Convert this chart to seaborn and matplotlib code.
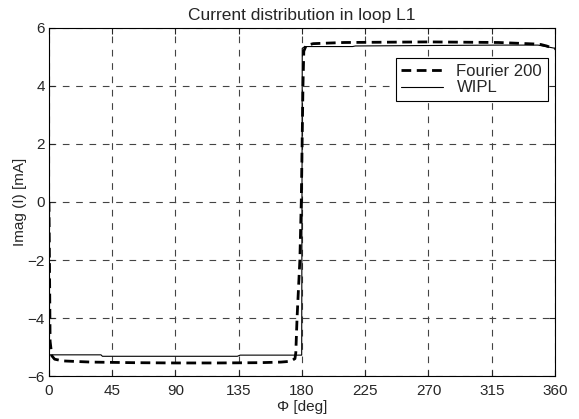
import matplotlib
matplotlib.use("Agg")
import matplotlib.pyplot as plt
import pandas as pd
import seaborn as sns

# Fourier 200 (dashed)
phi_fourier = [0, 0.8, 2, 4, 10, 30, 60, 90, 120, 150, 165, 170, 173, 175, 175.6,
               176.5, 178.5, 179.5, 180.7, 181.3, 183, 188, 210, 270, 320, 345,
               350, 354, 357, 360]
imag_fourier = [0, -4.8, -5.3, -5.42, -5.48, -5.52, -5.54, -5.55, -5.55, -5.54,
                -5.52, -5.5, -5.46, -5.4, -5.2, -4.0, -2.0, 0.0, 4.0, 5.2, 5.4,
                5.46, 5.5, 5.52, 5.5, 5.45, 5.43, 5.38, 5.33, 5.28]

# WIPL (solid)
phi_wipl = [0, 37, 38, 134, 136, 179.8, 180.2, 182, 216, 218, 320, 348, 360]
imag_wipl = [-5.27, -5.27, -5.32, -5.32, -5.28, -5.28, 5.3, 5.36, 5.36, 5.38,
             5.41, 5.41, 5.3]

x_ticks = [0, 45, 90, 135, 180, 225, 270, 315, 360]
y_ticks = [-6, -4, -2, 0, 2, 4, 6]

df_fourier = pd.DataFrame({"phi": phi_fourier, "imag": imag_fourier})
df_wipl = pd.DataFrame({"phi": phi_wipl, "imag": imag_wipl})

sns.set_style("ticks")
plt.rcParams["font.family"] = ["Liberation Sans", "DejaVu Sans"]

fig = plt.figure(figsize=(5.79, 4.19), dpi=100)
ax = fig.add_axes([0.0846, 0.1026, 0.8739, 0.8306])

sns.lineplot(data=df_fourier, x="phi", y="imag", ax=ax, sort=False,
             estimator=None, color="black", linewidth=2.0,
             linestyle=(0, (3.5, 2)), label="Fourier 200")
sns.lineplot(data=df_wipl, x="phi", y="imag", ax=ax, sort=False,
             estimator=None, color="black", linewidth=0.8, label="WIPL")

ax.set_xlim(0, 360)
ax.set_ylim(-6, 6)
ax.set_xticks(x_ticks)
ax.set_yticks(y_ticks)
ax.tick_params(direction="in", length=4, width=0.8, labelsize=11,
               top=True, right=True)
ax.tick_params(axis="x", pad=6)
ax.tick_params(axis="y", pad=3)
ax.grid(True, color="#444444", linestyle=(0, (6, 6)), linewidth=0.8)
for s in ax.spines.values():
    s.set_color("black")
    s.set_linewidth(0.8)

ax.set_title("Current distribution in loop L1", fontsize=12.5, pad=6)
ax.set_xlabel("Φ [deg]", fontsize=11, labelpad=1)
ax.set_ylabel("Imag (I) [mA]", fontsize=11, labelpad=0)

leg = ax.legend(loc="upper right", bbox_to_anchor=(0.986, 0.914),
                borderaxespad=0, fontsize=12, fancybox=False, framealpha=1,
                edgecolor="black", handlelength=2.5, borderpad=0.35,
                labelspacing=0.1)
leg.get_frame().set_linewidth(0.8)

fig.savefig("out.png", dpi=100, facecolor="white")
